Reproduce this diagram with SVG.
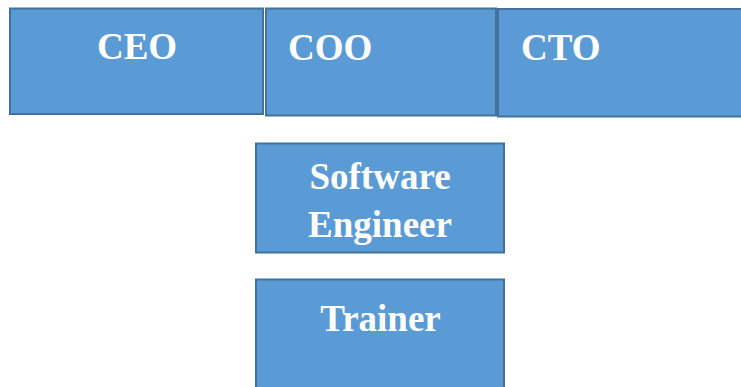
<svg xmlns="http://www.w3.org/2000/svg" width="741" height="387" viewBox="0 0 741 387">
<style>
.box{fill:#5B9BD5;stroke:#41719C;stroke-width:2}
.t{font-family:"Liberation Serif","Times New Roman",serif;font-weight:bold;font-size:37px;fill:#FFFFFF}
</style>
<rect width="741" height="387" fill="#FFFFFF"/>
<g id="ceo"><rect class="box" x="10" y="8.5" width="253" height="105.5"/><text class="t" x="137" y="59" text-anchor="middle">CEO</text></g>
<g id="coo"><rect class="box" x="266" y="8.5" width="230" height="107"/><text class="t" x="288" y="60">COO</text></g>
<g id="cto"><rect class="box" x="498" y="9" width="250" height="107.5"/><text class="t" x="521" y="60">CTO</text></g>
<g id="software-engineer"><rect class="box" x="256" y="143.5" width="248" height="109"/><text class="t" x="380" y="189" text-anchor="middle">Software</text><text class="t" x="380" y="237" text-anchor="middle">Engineer</text></g>
<g id="trainer"><rect class="box" x="256" y="279.5" width="248" height="120"/><text class="t" x="380.5" y="331" text-anchor="middle">Trainer</text></g>
<g id="connectors"></g>
</svg>
